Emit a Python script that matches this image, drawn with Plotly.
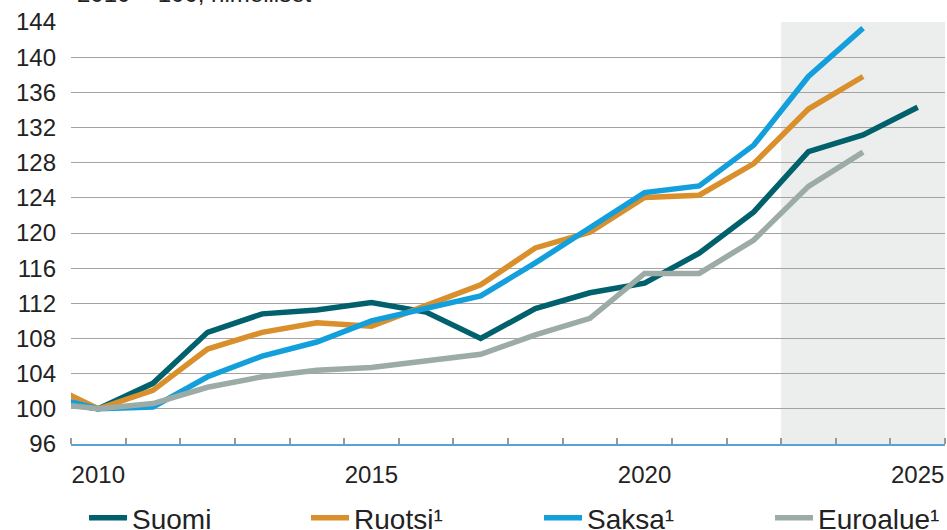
import plotly.graph_objects as go

years = list(range(2009, 2026))
suomi = [101.0, 100.0, 102.9, 108.7, 110.8, 111.25, 112.1, 111.0, 108.0, 111.4, 113.2, 114.3, 117.7, 122.4, 129.25, 131.15, 134.3]
years_b = list(range(2009, 2025))
ruotsi = [103.0, 100.0, 102.1, 106.8, 108.7, 109.8, 109.4, 111.7, 114.1, 118.3, 120.1, 124.05, 124.3, 127.9, 134.1, 137.8]
saksa = [101.6, 100.0, 100.2, 103.65, 106.0, 107.6, 110.0, 111.5, 112.85, 116.6, 120.6, 124.6, 125.35, 130.0, 137.8, 143.3]
euroalue = [100.7, 100.0, 100.6, 102.45, 103.65, 104.4, 104.7, 105.5, 106.2, 108.4, 110.3, 115.4, 115.4, 119.2, 125.3, 129.2]

names = ["Suomi", "Ruotsi¹", "Saksa¹", "Euroalue¹"]
colors = ["#00606b", "#d98f2b", "#129fdb", "#9caba6"]
y_ticks = list(range(96, 145, 4))
x_ticks = [2010, 2015, 2020, 2025]
forecast_start, forecast_end = 2022.5, 2025.5
title_text = "2010 = 100, nimelliset"

FONT = "Liberation Sans, Arial, sans-serif"
TXT = "#222222"

fig = go.Figure()
series = [(years, suomi), (years_b, ruotsi), (years_b, saksa), (years_b, euroalue)]
legend_ids = ["legend", "legend2", "legend3", "legend4"]
for (xs, ys), n, c, lg in zip(series, names, colors, legend_ids):
    fig.add_trace(go.Scatter(x=xs, y=ys, name=n, mode="lines",
                             line=dict(color=c, width=5.5), legend=lg))

fig.add_shape(type="rect", xref="x", yref="y", x0=forecast_start, x1=forecast_end,
              y0=96, y1=144, fillcolor="#eceeed", line=dict(width=0), layer="below")

legend_x = [0.0149, 0.2689, 0.5355, 0.7998]
leg_common = dict(orientation="h", yanchor="top", y=-0.116, xanchor="left",
                  font=dict(family=FONT, size=28, color=TXT), bgcolor="rgba(0,0,0,0)",
                  itemwidth=38)
layout_legends = {}
for lg, lx in zip(legend_ids, legend_x):
    layout_legends[lg] = dict(leg_common, x=lx)

fig.update_layout(
    width=947, height=530,
    margin=dict(l=71, r=2, t=22, b=86, autoexpand=False),
    paper_bgcolor="white", plot_bgcolor="white",
    font=dict(family=FONT, size=24, color=TXT),
    showlegend=True,
    xaxis=dict(range=[2009.5, 2025.5], tickvals=x_ticks, ticktext=[str(v) for v in x_ticks],
               ticks="", showgrid=False, zeroline=False, automargin=False,
               showline=True, linecolor="#5aa2d6", linewidth=1.5,
               tickfont=dict(family=FONT, size=24, color=TXT), ticklabelstandoff=8,
               minor=dict(tick0=2009.5, dtick=1, ticks="inside", ticklen=6,
                          tickcolor="#999999", tickwidth=1.5, showgrid=False)),
    yaxis=dict(range=[96, 144], tickvals=y_ticks, ticks="", showgrid=True,
               gridcolor="#a3a3a3", gridwidth=1, zeroline=False, showline=False,
               automargin=False,
               tickfont=dict(family=FONT, size=24, color=TXT), ticklabelstandoff=14),
    annotations=[dict(text=title_text, xref="paper", yref="paper", x=0.005, y=1.03,
                      xanchor="left", yanchor="bottom", showarrow=False,
                      font=dict(family=FONT, size=24, color=TXT))],
    **layout_legends,
)

fig.write_html("out.html", config={"displayModeBar": False},
               post_script="document.body.style.margin='0';document.body.style.overflow='hidden';")
